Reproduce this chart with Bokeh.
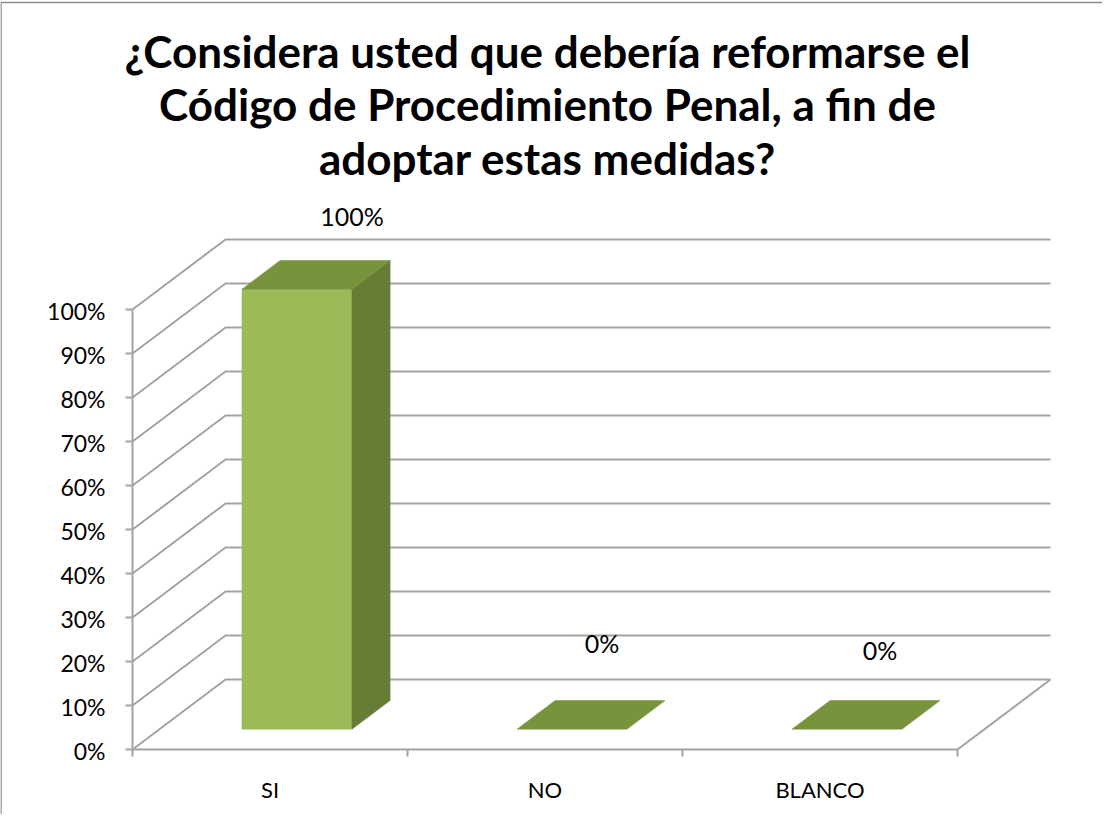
from bokeh.plotting import figure
from bokeh.models import Range1d
from bokeh.core.properties import value
from bokeh.embed import file_html
from bokeh.resources import INLINE

# ---------------- data ----------------
categories = ["SI", "NO", "BLANCO"]
values = [1.00, 0.00, 0.00]
data_labels = ["100%", "0%", "0%"]
value_ticks = [0.0, 0.1, 0.2, 0.3, 0.4, 0.5, 0.6, 0.7, 0.8, 0.9, 1.0]
tick_labels = ["0%", "10%", "20%", "30%", "40%", "50%", "60%", "70%", "80%", "90%", "100%"]
title_lines = ["¿Considera usted que debería reformarse el",
               "Código de Procedimiento Penal, a fin de",
               "adoptar estas medidas?"]

# ---------------- layout (3D projection) ----------------
X0, Y0 = 140.0, 757.0      # front-left-bottom corner of the plot box
CAT_W = 275.0              # width of one category slot
V_H = 440.0                # height of 100 %
DX, DY = 93.0, -70.0       # depth vector of the box
BAR_HALF = 0.2             # half width of a bar in category units
D0, D1 = 0.29, 0.70        # depth span of the bars
lbl_dx = [17, -8, -5]
lbl_dy = [-45, -58, -51]

FONT = "Lato"
GRID = "#a3a3a3"
FRONT, SIDE, TOP = "#9bbb59", "#677c35", "#77933c"


def proj(c, v, d):
    return X0 + CAT_W * c + DX * d, Y0 - V_H * v + DY * d


W, H = 1102, 814
p = figure(width=W, height=H, output_backend="svg", toolbar_location=None,
           x_range=Range1d(8, 8 + W), y_range=Range1d(8 + H, 8),
           min_border=0, outline_line_color=None)
p.axis.visible = False
p.grid.visible = False
p.background_fill_color = "white"

ncat = len(categories)

# chart border (left and top edges visible)
p.line([8.5, 8.5, 8 + W], [8 + H, 10, 10], line_color="#8c8c8c", line_width=1.5)

# back wall gridlines and side wall diagonals
for v in value_ticks:
    xa, ya = proj(0, v, 0)
    xb, yb = proj(0, v, 1)
    xc, yc = proj(ncat, v, 1)
    p.line([xa, xb, xc], [ya, yb, yc], line_color=GRID, line_width=2)

# floor right edge and front axis
xa, ya = proj(0, 0, 0)
xe, ye = proj(ncat, 0, 0)
xf, yf = proj(ncat, 0, 1)
p.line([xa, xe, xf], [ya, ye, yf], line_color=GRID, line_width=2)
xt, yt = proj(0, 1, 0)
p.line([xa, xt], [ya, yt], line_color=GRID, line_width=2)

# value ticks & labels
for v, lab in zip(value_ticks, tick_labels):
    x, y = proj(0, v, 0)
    p.line([x - 7, x], [y, y], line_color=GRID, line_width=2)
    p.text([x - 27], [y + 1], text=[lab], text_align="right", text_baseline="middle",
           text_font=value(FONT), text_font_size="23px", text_color="#000000")

# category ticks & labels
for i in range(ncat + 1):
    x, y = proj(i, 0, 0)
    p.line([x, x], [y, y + 7], line_color=GRID, line_width=2)
for i, cat in enumerate(categories):
    x, y = proj(i + 0.5, 0, 0)
    p.text([x], [y + 40], text=[cat], text_align="center", text_baseline="middle",
           text_font=value(FONT), text_font_size="22px", text_color="#000000")

# bars
for i, v in enumerate(values):
    cl, cr = i + 0.5 - BAR_HALF, i + 0.5 + BAR_HALF
    fl_b = proj(cl, 0, D0); fr_b = proj(cr, 0, D0)
    fl_t = proj(cl, v, D0); fr_t = proj(cr, v, D0)
    bl_t = proj(cl, v, D1); br_t = proj(cr, v, D1)
    br_b = proj(cr, 0, D1)
    if v > 0:
        p.patch([fl_b[0], fr_b[0], fr_t[0], fl_t[0]], [fl_b[1], fr_b[1], fr_t[1], fl_t[1]],
                fill_color=FRONT, line_color=FRONT, line_width=0.5)
        p.patch([fr_b[0], br_b[0], br_t[0], fr_t[0]], [fr_b[1], br_b[1], br_t[1], fr_t[1]],
                fill_color=SIDE, line_color=SIDE, line_width=0.5)
    p.patch([fl_t[0], fr_t[0], br_t[0], bl_t[0]], [fl_t[1], fr_t[1], br_t[1], bl_t[1]],
            fill_color=TOP, line_color=TOP, line_width=0.5)
    lx, ly = proj(i + 0.5, v, D1)
    p.text([lx + lbl_dx[i]], [ly + lbl_dy[i]], text=[data_labels[i]], text_align="center",
           text_baseline="middle", text_font=value(FONT), text_font_size="25px",
           text_color="#000000")

# title
for k, line in enumerate(title_lines):
    p.text([555], [58 + 53.5 * k], text=[line], text_align="center", text_baseline="middle",
           text_font=value(FONT), text_font_style="bold", text_font_size="44px",
           text_color="#000000")

open("out.html", "w").write(file_html(p, INLINE))
